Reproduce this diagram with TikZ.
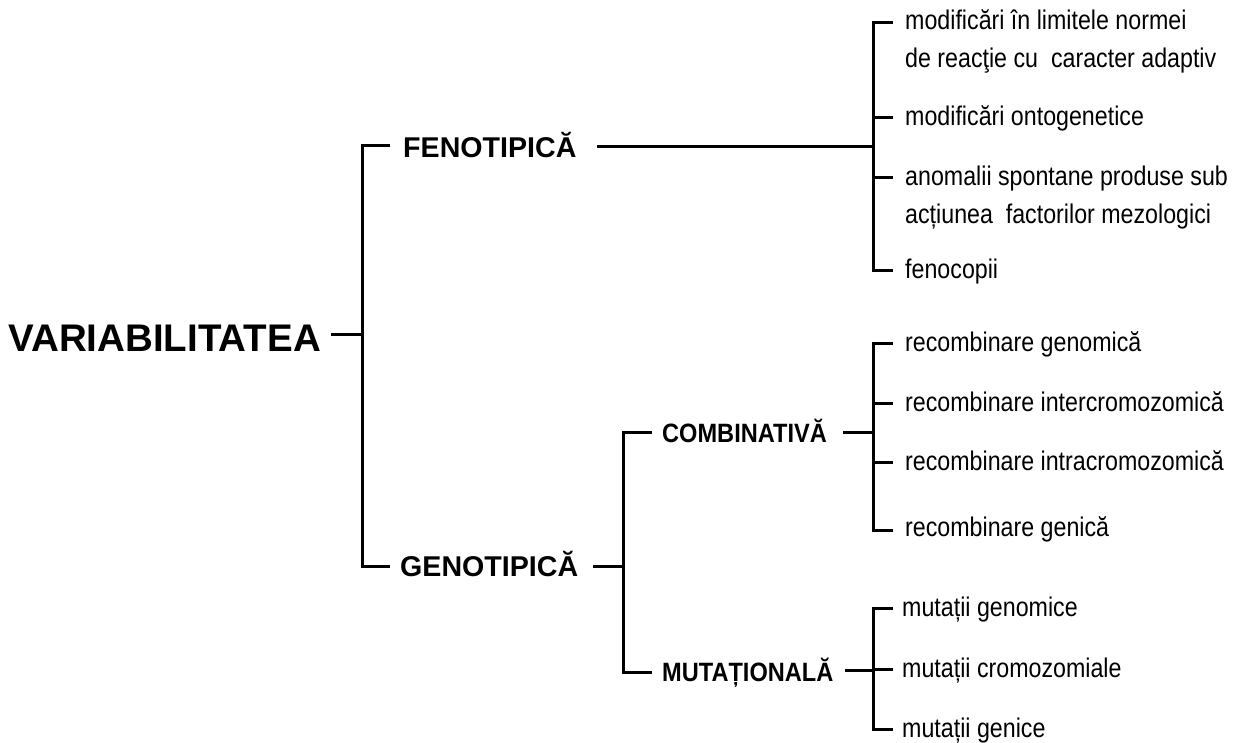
\documentclass[tikz,border=0pt]{standalone}
\usepackage{fontspec}
\setmainfont{Liberation Sans}
\newfontfamily\condf{Liberation Sans}[FakeStretch=0.86]
\newfontfamily\condb{Liberation Sans}[FakeStretch=0.89]
\tikzset{
  rootlbl/.style={font=\fontsize{38.5}{40}\selectfont\bfseries, inner sep=0pt},
  lvlone/.style={font=\fontsize{28.6}{30}\selectfont\bfseries, inner sep=0pt},
  lvltwo/.style={font=\condb\fontsize{26.5}{28}\selectfont\bfseries, inner sep=0pt},
  leaf/.style={font=\condf\fontsize{27}{29}\selectfont, inner sep=0pt, anchor=base west},
  link/.style={line width=3pt, draw=black}
}
\begin{document}
\begin{tikzpicture}[x=1pt,y=-1pt]
\fill[white] (0,0) rectangle (1238,742);

% ---- root and first level
\node[rootlbl, anchor=base east] (var) at (321,351) {VARIABILITATEA};
\node[lvlone, anchor=base west] (fen) at (403,157) {FENOTIPICĂ};
\node[lvlone, anchor=base west] (gen) at (400,576) {GENOTIPICĂ};
\coordinate (r0) at (362,334);
\coordinate (r1) at (362,145);
\coordinate (r2) at (362,566);
\draw[link, shorten <=10pt] (r0 -| var.east) -- (r0);
\draw[link, shorten <=13pt, shorten >=10pt] (r1 -| fen.west) -- (r1) -- (r2) -- (r2 -| gen.west);

% ---- fenotipica subtree
\coordinate (fj) at (873,146);
\coordinate (ft1) at (873,22);
\coordinate (ft2) at (873,117);
\coordinate (ft3) at (873,177);
\coordinate (ft4) at (873,270);
\node[leaf] (a1) at (905,29) {modificări în limitele normei};
\node[leaf] (a1b) at (905,67) {de reacţie cu\ \ caracter adaptiv};
\node[leaf] (a2) at (905,125) {modificări ontogenetice};
\node[leaf] (a3) at (905,185) {anomalii spontane produse sub};
\node[leaf] (a3b) at (905,223) {acțiunea\ \ factorilor mezologici};
\node[leaf] (a4) at (905,278) {fenocopii};
\draw[link, shorten <=20pt] (fj -| fen.east) -- (fj);
\draw[link, shorten <=12pt, shorten >=12pt] (ft1 -| a1.west) -- (ft1) -- (ft4) -- (ft4 -| a4.west);
\draw[link, shorten >=12pt] (ft2) -- (ft2 -| a2.west);
\draw[link, shorten >=12pt] (ft3) -- (ft3 -| a3.west);

% ---- genotipica subtree
\node[lvltwo, anchor=base west] (com) at (662,442) {COMBINATIVĂ};
\node[lvltwo, anchor=base west] (mut) at (662,681) {MUTAȚIONALĂ};
\coordinate (g0) at (623,566);
\coordinate (g1) at (623,432);
\coordinate (g2) at (623,672);
\draw[link, shorten <=15pt] (g0 -| gen.east) -- (g0);
\draw[link, shorten <=10pt, shorten >=10pt] (g1 -| com.west) -- (g1) -- (g2) -- (g2 -| mut.west);

% ---- combinativa subtree
\coordinate (cj) at (873,432);
\coordinate (ct1) at (873,343);
\coordinate (ct2) at (873,403);
\coordinate (ct3) at (873,462);
\coordinate (ct4) at (873,530);
\node[leaf] (b1) at (905,351) {recombinare genomică};
\node[leaf] (b2) at (905,411) {recombinare intercromozomică};
\node[leaf] (b3) at (905,470) {recombinare intracromozomică};
\node[leaf] (b4) at (905,536) {recombinare genică};
\draw[link, shorten <=16pt] (cj -| com.east) -- (cj);
\draw[link, shorten <=12pt, shorten >=12pt] (ct1 -| b1.west) -- (ct1) -- (ct4) -- (ct4 -| b4.west);
\draw[link, shorten >=12pt] (ct2) -- (ct2 -| b2.west);
\draw[link, shorten >=12pt] (ct3) -- (ct3 -| b3.west);

% ---- mutationala subtree
\coordinate (mj) at (873,670);
\coordinate (mt1) at (873,608);
\coordinate (mt2) at (873,669);
\coordinate (mt3) at (873,729);
\node[leaf] (m1) at (902,616) {mutații genomice};
\node[leaf] (m2) at (902,677) {mutații cromozomiale};
\node[leaf] (m3) at (902,737) {mutații genice};
\draw[link, shorten <=11pt] (mj -| mut.east) -- (mj);
\draw[link, shorten <=9pt, shorten >=9pt] (mt1 -| m1.west) -- (mt1) -- (mt3) -- (mt3 -| m3.west);
\draw[link, shorten >=9pt] (mt2) -- (mt2 -| m2.west);
\end{tikzpicture}
\end{document}
